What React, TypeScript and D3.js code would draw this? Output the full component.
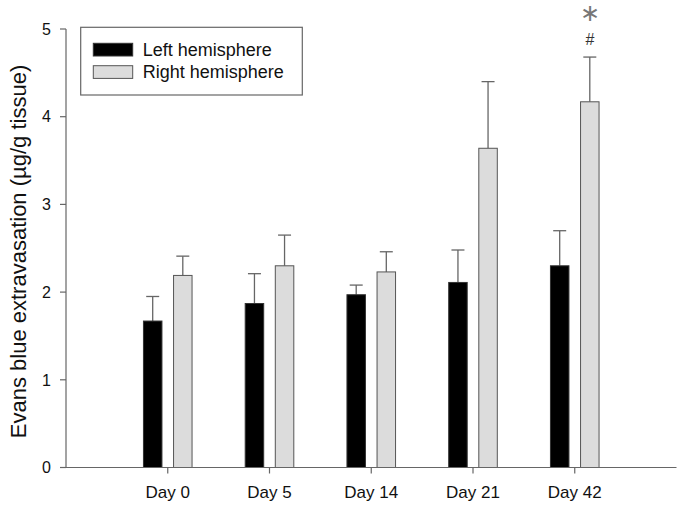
import React from "react";
import * as d3 from "d3";

const categories = ["Day 0", "Day 5", "Day 14", "Day 21", "Day 42"];
const leftValues = [1.67, 1.87, 1.97, 2.11, 2.3];
const leftErrors = [0.28, 0.34, 0.11, 0.37, 0.4];
const rightValues = [2.19, 2.3, 2.23, 3.64, 4.17];
const rightErrors = [0.22, 0.35, 0.23, 0.76, 0.51];
const yTicks = [0, 1, 2, 3, 4, 5];
const seriesNames = ["Left hemisphere", "Right hemisphere"];

const FONT = "'Liberation Sans', Arial, Helvetica, sans-serif";

export default function App() {
  const W = 685;
  const H = 509;
  const x = d3.scaleLinear().domain([0, 6]).range([66, 676.5]);
  const y = d3.scaleLinear().domain([0, 5]).range([467.5, 29]);
  const bw = 18.5;
  const axisColor = "#666";
  const textColor = "#111";

  const series = [
    { vals: leftValues, errs: leftErrors, off: -24.3, fill: "#000", stroke: "#333" },
    { vals: rightValues, errs: rightErrors, off: 5.8, fill: "#dcdcdc", stroke: "#555" },
  ];

  return (
    <svg
      width={W}
      height={H}
      style={{ position: "absolute", left: 0, top: 0, background: "#fff" }}
      fontFamily={FONT}
    >
      <rect x={0} y={0} width={W} height={H} fill="#fff" />
      {series.map((s, si) =>
        categories.map((c, i) => {
          const cx = x(i + 1);
          const bx = cx + s.off;
          const mid = bx + bw / 2;
          const top = y(s.vals[i]);
          const errTop = y(s.vals[i] + s.errs[i]);
          return (
            <g key={`${si}-${c}`}>
              <line x1={mid} x2={mid} y1={top} y2={errTop} stroke={axisColor} strokeWidth={1.3} />
              <line x1={mid - 6.5} x2={mid + 6.5} y1={errTop} y2={errTop} stroke={axisColor} strokeWidth={1.3} />
              <rect
                x={bx}
                y={top}
                width={bw}
                height={y(0) - top}
                fill={s.fill}
                stroke={s.stroke}
                strokeWidth={1}
              />
            </g>
          );
        })
      )}
      <line x1={x(0)} x2={x(0)} y1={y(0)} y2={y(5)} stroke={axisColor} strokeWidth={1.2} />
      {yTicks.map((t) => (
        <g key={t}>
          <line x1={x(0) - 6} x2={x(0)} y1={y(t)} y2={y(t)} stroke={axisColor} strokeWidth={1.2} />
          <text x={51} y={y(t)} dy="0.36em" textAnchor="end" fontSize={16} fill={textColor}>
            {t}
          </text>
        </g>
      ))}
      <line x1={x(0)} x2={x(6)} y1={y(0)} y2={y(0)} stroke={axisColor} strokeWidth={1.2} />
      {categories.map((c, i) => (
        <g key={c}>
          <line x1={x(i + 1)} x2={x(i + 1)} y1={y(0)} y2={y(0) + 6} stroke={axisColor} strokeWidth={1.2} />
          <text x={x(i + 1)} y={498} textAnchor="middle" fontSize={17} fill={textColor}>
            {c}
          </text>
        </g>
      ))}
      <text
        transform={`translate(25.5, 251.5) rotate(-90)`}
        textAnchor="middle"
        fontSize={22}
        fill={textColor}
      >
        Evans blue extravasation (µg/g tissue)
      </text>
      <rect x={80.7} y={27.3} width={221.6} height={67.7} fill="#fff" stroke={axisColor} strokeWidth={1.2} />
      {seriesNames.map((n, i) => (
        <g key={n}>
          <rect
            x={93.3}
            y={43.3 + i * 22.4}
            width={39.4}
            height={12.7}
            fill={series[i].fill}
            stroke={series[i].stroke}
            strokeWidth={1}
          />
          <text x={142.7} y={55.7 + i * 22} fontSize={18} fill={textColor}>
            {n}
          </text>
        </g>
      ))}
      <text
        x={590}
        y={21}
        textAnchor="middle"
        fontSize={24}
        fill="#777"
        fontFamily="'DejaVu Sans', sans-serif"
      >
        ∗
      </text>
      <text x={590} y={44.5} textAnchor="middle" fontSize={16} fill="#333">
        #
      </text>
    </svg>
  );
}
